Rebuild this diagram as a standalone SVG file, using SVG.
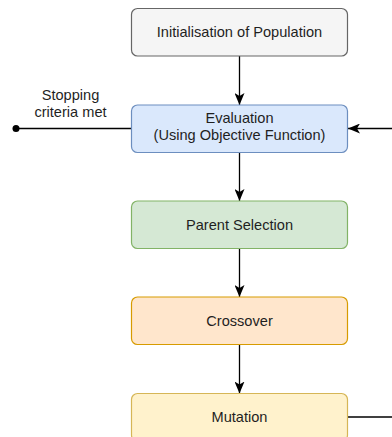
<svg xmlns="http://www.w3.org/2000/svg" width="392" height="437" viewBox="0 0 392 437">
<style>
.box{stroke-width:1.2}
.lbl{font-family:"Liberation Sans",Arial,sans-serif;font-size:14.6px;fill:#1f1f1f;text-anchor:middle}
.edge{stroke:#000;stroke-width:1.3;fill:none}
</style>
<defs>
<marker id="arr" viewBox="0 0 12 10" refX="12" refY="5" markerWidth="12" markerHeight="10" orient="auto" markerUnits="userSpaceOnUse">
<path d="M0,0 L12,5 L0,10 L3,5 Z" fill="#000"/>
</marker>
</defs>
<rect width="392" height="437" fill="#fff"/>
<g id="connectors">
<line class="edge" x1="239.5" y1="56" x2="239.5" y2="105" marker-end="url(#arr)"/>
<line class="edge" x1="239.5" y1="152.5" x2="239.5" y2="201" marker-end="url(#arr)"/>
<line class="edge" x1="239.5" y1="248.5" x2="239.5" y2="297" marker-end="url(#arr)"/>
<line class="edge" x1="239.5" y1="345" x2="239.5" y2="393.5" marker-end="url(#arr)"/>
<line class="edge" x1="131.5" y1="128.5" x2="16" y2="128.5"/>
<circle cx="16" cy="128.5" r="3.5" fill="#000"/>
<line class="edge" x1="392" y1="128.5" x2="348" y2="128.5" marker-end="url(#arr)"/>
<line class="edge" x1="347.5" y1="417" x2="392" y2="417"/>
<text class="lbl" x="70.5" y="99.5">Stopping</text>
<text class="lbl" x="70.5" y="116.5">criteria met</text>
</g>
<g id="init">
<rect class="box" x="131.5" y="8.5" width="216" height="47.5" rx="6" fill="#f5f5f5" stroke="#666666"/>
<text class="lbl" x="239.5" y="37">Initialisation of Population</text>
</g>
<g id="evaluation">
<rect class="box" x="131.5" y="105" width="216" height="47.5" rx="6" fill="#dae8fc" stroke="#6c8ebf"/>
<text class="lbl" x="239.5" y="123">Evaluation</text>
<text class="lbl" x="239.5" y="140">(Using Objective Function)</text>
</g>
<g id="parent">
<rect class="box" x="131.5" y="201" width="216" height="47.5" rx="6" fill="#d5e8d4" stroke="#82b366"/>
<text class="lbl" x="239.5" y="229.5">Parent Selection</text>
</g>
<g id="crossover">
<rect class="box" x="131.5" y="297" width="216" height="47.5" rx="6" fill="#ffe6cc" stroke="#d79b00"/>
<text class="lbl" x="239.5" y="325.5">Crossover</text>
</g>
<g id="mutation">
<rect class="box" x="131.5" y="393.5" width="216" height="47.5" rx="6" fill="#fff2cc" stroke="#d6b656"/>
<text class="lbl" x="239.5" y="421.5">Mutation</text>
</g>
</svg>
